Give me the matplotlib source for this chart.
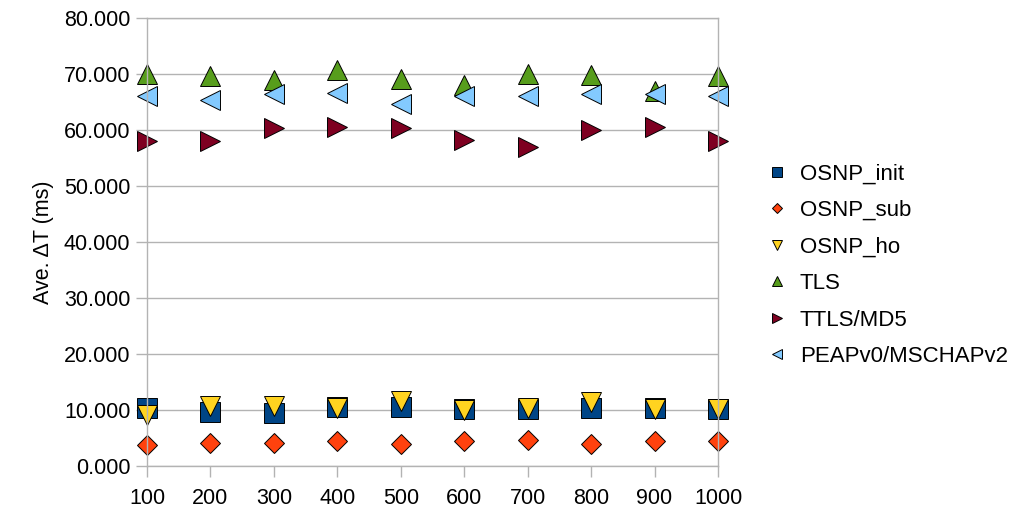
import matplotlib
matplotlib.use("Agg")
import matplotlib.pyplot as plt
from matplotlib.ticker import FormatStrFormatter

plt.rcParams['font.family'] = ['Liberation Sans', 'DejaVu Sans']

x = [100, 200, 300, 400, 500, 600, 700, 800, 900, 1000]
osnp_init = [10.3, 9.6, 9.4, 10.5, 10.6, 10.1, 10.2, 10.3, 10.3, 10.1]
osnp_sub = [3.8, 4.1, 4.1, 4.4, 3.85, 4.4, 4.6, 3.9, 4.4, 4.4]
osnp_ho = [9.2, 10.8, 10.8, 10.45, 11.6, 10.05, 10.4, 11.4, 10.2, 10.2]
tls = [70.1, 69.6, 69.0, 70.7, 69.05, 68.0, 70.05, 69.8, 66.9, 69.6]
ttls_md5 = [58.1, 58.1, 60.4, 60.5, 60.3, 58.3, 57.0, 60.0, 60.5, 58.1]
peap = [66.1, 65.3, 66.5, 66.7, 64.7, 66.1, 66.1, 66.5, 66.4, 66.1]

labels = ['OSNP_init', 'OSNP_sub', 'OSNP_ho', 'TLS', 'TTLS/MD5', 'PEAPv0/MSCHAPv2']
series = [osnp_init, osnp_sub, osnp_ho, tls, ttls_md5, peap]
markers = ['s', 'D', 'v', '^', '>', '<']
sizes = [14, 10, 14, 14, 14, 14]
colors = ['#004586', '#ff420e', '#ffd320', '#579d1c', '#7e0021', '#83caff']

fig = plt.figure(figsize=(10.17, 5.17), dpi=100)
ax = fig.add_axes([0.1445, 0.0986, 0.5615, 0.8664])

for ys, lab, m, s, c in zip(series, labels, markers, sizes, colors):
    ax.plot(x, ys, linestyle='none', marker=m, markersize=s, markerfacecolor=c,
            markeredgecolor='black', markeredgewidth=0.7, label=lab, clip_on=False)

ax.set_xlim(100, 1000)
ax.set_ylim(0, 80)
ax.set_xticks(x)
ax.set_yticks(range(0, 81, 10))
ax.yaxis.set_major_formatter(FormatStrFormatter('%.3f'))
ax.yaxis.grid(True, color='#b3b3b3', linewidth=1)
ax.set_axisbelow(True)
for sp in ax.spines.values():
    sp.set_color('#b3b3b3')
    sp.set_linewidth(1)
ax.tick_params(axis='both', colors='#b3b3b3', labelcolor='black', labelsize=15.5,
               length=8, width=1, direction='out')
ax.tick_params(axis='x', pad=8)
ax.tick_params(axis='y', pad=4)
ax.set_ylabel('Ave. ΔT (ms)', fontsize=15.5, labelpad=7)

fig.legend(loc='upper left', bbox_to_anchor=(0.744, 0.701), frameon=False,
           fontsize=16, markerscale=0.55, labelspacing=0.7, handletextpad=0.55,
           handlelength=1.0, borderaxespad=0)

fig.savefig('out.png', dpi=100)
